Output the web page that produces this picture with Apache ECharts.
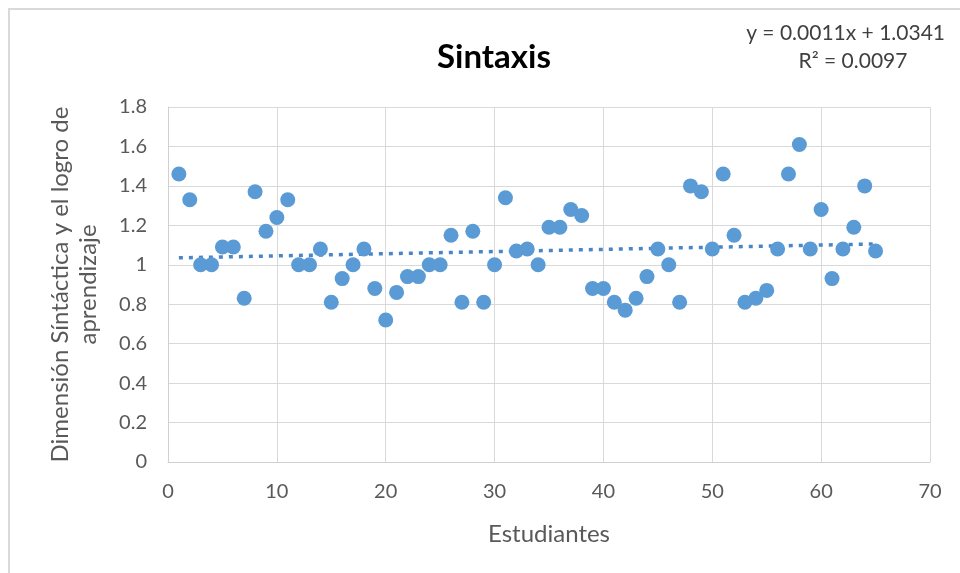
<!DOCTYPE html>
<html>
<head>
<meta charset="utf-8">
<script src="https://cdn.jsdelivr.net/npm/echarts@6/dist/echarts.min.js"></script>
<style>
  html, body { margin: 0; padding: 0; background: #fff; }
  #frame {
    position: absolute; left: 8px; top: 8px; width: 960px; height: 573px;
    border-left: 2px solid #d9d9d9; border-top: 2px solid #d9d9d9;
  }
  #chart { position: absolute; left: 0; top: 0; width: 960px; height: 573px; }
</style>
</head>
<body>
<div id="frame"></div>
<div id="chart"></div>
<script>
// estudiantes 1..65
const students = [
  1, 2, 3, 4, 5, 6, 7, 8, 9, 10, 11, 12, 13, 14, 15, 16, 17, 18, 19, 20,
  21, 22, 23, 24, 25, 26, 27, 28, 29, 30, 31, 32, 33, 34, 35, 36, 37, 38, 39, 40,
  41, 42, 43, 44, 45, 46, 47, 48, 49, 50, 51, 52, 53, 54, 55, 56, 57, 58, 59, 60,
  61, 62, 63, 64, 65
]
// Dimensión Sintáctica y el logro de aprendizaje
const sintaxis = [
  1.46, 1.33, 1.00, 1.00, 1.09, 1.09, 0.83, 1.37, 1.17, 1.24,
  1.33, 1.00, 1.00, 1.08, 0.81, 0.93, 1.00, 1.08, 0.88, 0.72,
  0.86, 0.94, 0.94, 1.00, 1.00, 1.15, 0.81, 1.17, 0.81, 1.00,
  1.34, 1.07, 1.08, 1.00, 1.19, 1.19, 1.28, 1.25, 0.88, 0.88,
  0.81, 0.77, 0.83, 0.94, 1.08, 1.00, 0.81, 1.40, 1.37, 1.08,
  1.46, 1.15, 0.81, 0.83, 0.87, 1.08, 1.46, 1.61, 1.08, 1.28,
  0.93, 1.08, 1.19, 1.40, 1.07
]
// línea de tendencia lineal (Excel): y = 0.0011x + 1.0341
const trendSlope = 0.0011
const trendIntercept = 1.0341
const trendX = [1, 65]
const xTicks = [0, 10, 20, 30, 40, 50, 60, 70]
const yTicks = [0, 0.2, 0.4, 0.6, 0.8, 1, 1.2, 1.4, 1.6, 1.8]

const FONT = 'Lato'
const GRAY = '#595959'

let chart = echarts.init(document.getElementById('chart'), null, { renderer: 'canvas' })

let options = {
  animation: false,
  textStyle: { fontFamily: FONT },
  title: [
    {
      text: 'Sintaxis',
      left: 489,
      top: 36,
      textAlign: 'center',
      textStyle: { fontSize: 33, fontWeight: 'bold', color: '#000', fontFamily: FONT }
    },
    {
      text: 'y = 0.0011x + 1.0341',
      right: 10,
      top: 18,
      textStyle: { fontSize: 21, fontWeight: 'normal', color: '#404040', fontFamily: FONT }
    },
    {
      text: 'R² = 0.0097',
      left: 848,
      top: 46,
      textAlign: 'center',
      textStyle: { fontSize: 21, fontWeight: 'normal', color: '#404040', fontFamily: FONT }
    }
  ],
  grid: {
    left: 168,
    right: 30,
    top: 107,
    bottom: 111,
    containLabel: false
  },
  xAxis: {
    type: 'value',
    min: xTicks[0],
    max: xTicks[xTicks.length - 1],
    interval: 10,
    name: 'Estudiantes',
    nameLocation: 'middle',
    nameGap: 60,
    nameTextStyle: { fontSize: 24, color: GRAY, fontFamily: FONT },
    axisLine: { show: true, lineStyle: { color: '#d0d0d0', width: 1 } },
    axisTick: { show: false },
    axisLabel: { fontSize: 20, color: GRAY, margin: 20, fontFamily: FONT },
    splitLine: { show: true, lineStyle: { color: '#d9d9d9', width: 1 } }
  },
  yAxis: {
    type: 'value',
    min: yTicks[0],
    max: yTicks[yTicks.length - 1],
    interval: 0.2,
    name: 'Dimensión Síntáctica y el logro de\naprendizaje',
    nameLocation: 'middle',
    nameGap: 66,
    nameTextStyle: { fontSize: 24, color: GRAY, fontFamily: FONT, lineHeight: 28 },
    axisLine: { show: true, lineStyle: { color: '#d0d0d0', width: 1 } },
    axisTick: { show: false },
    axisLabel: {
      fontSize: 20, color: GRAY, margin: 21, fontFamily: FONT,
      formatter: (v) => String(Math.round(v * 10) / 10)
    },
    splitLine: { show: true, lineStyle: { color: '#d9d9d9', width: 1 } }
  },
  series: [
    {
      type: 'line',
      data: trendX.map(x => [x, trendSlope * x + trendIntercept]),
      symbol: 'none',
      lineStyle: { color: '#4a86c5', width: 3.5, type: [4, 6] },
      z: 3
    },
    {
      type: 'scatter',
      data: students.map((s, i) => [s, sintaxis[i]]),
      symbol: 'circle',
      symbolSize: 15,
      itemStyle: { color: '#5b9bd5', opacity: 1 },
      z: 4
    }
  ]
}

chart.setOption(options)
</script>
</body>
</html>
